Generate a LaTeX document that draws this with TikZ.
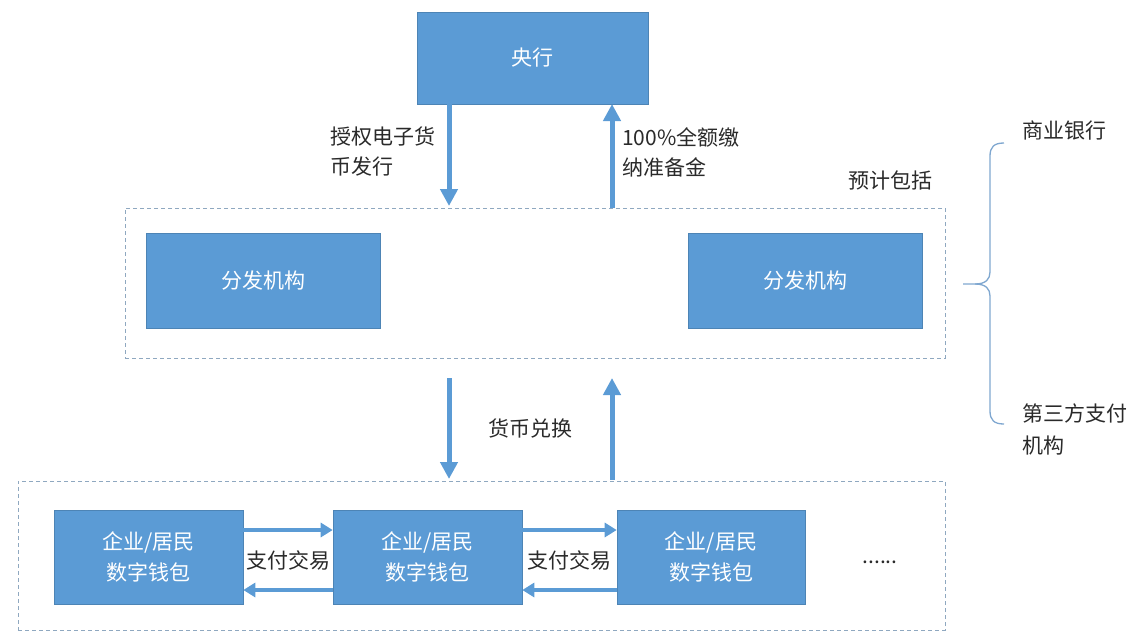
\documentclass[tikz,border=0pt]{standalone}
\usepackage{fontspec}
\setmainfont{Noto Sans CJK SC}
\usetikzlibrary{arrows.meta}
\definecolor{boxblue}{HTML}{5B9BD5}
\definecolor{dashc}{HTML}{8FA8C0}
\definecolor{bracec}{HTML}{7FA7D0}
\definecolor{txt}{HTML}{2A2A2A}
\begin{document}
\begin{tikzpicture}[x=1pt,y=-1pt,
  bluebox/.style={fill=boxblue,draw=boxblue!85!black,line width=0.6pt,text=white,font=\fontsize{21}{31}\selectfont,align=center,inner sep=0pt},
  dashbox/.style={draw=dashc,dashed,dash pattern=on 4pt off 3pt,line width=1pt},
  bigarrow/.style={draw=boxblue,line width=5pt,-{Triangle[width=17pt,length=17pt]}},
  smallarrow/.style={draw=boxblue,line width=4pt,-{Triangle[width=14pt,length=12pt]}},
  lbl/.style={text=txt,font=\fontsize{21}{30}\selectfont,align=left,inner sep=0pt}]
\useasboundingbox (0,0) rectangle (1132,633);
% central bank
\node[bluebox,minimum width=231pt,minimum height=92pt] (pboc) at (532.5,58) {央行};
% dashed box 1
\node[dashbox,minimum width=820pt,minimum height=150pt] (dist) at (535,283) {};
\node[bluebox,minimum width=234pt,minimum height=95pt] (d1) at (263,280.5) {分发机构};
\node[bluebox,minimum width=234pt,minimum height=95pt] (d2) at (805,280.5) {分发机构};
% arrows top
\coordinate (a1s) at (449,104);
\coordinate (a1e) at (449,206);
\coordinate (a2s) at (612,208);
\coordinate (a2e) at (612,104);
\draw[bigarrow] (a1s) -- (a1e);
\draw[bigarrow] (a2s) -- (a2e);
\node[lbl,anchor=north west] (l1) at (330,127) {授权电子货\\币发行};
\node[lbl,anchor=north west] (l2) at (622,127) {100\%全额缴\\纳准备金};
\node[lbl,anchor=west] (l3) at (848,180) {预计包括};
% brace
\draw[bracec,line width=1.3pt] (1004,143) .. controls (994,143) and (990,147) .. (990,156) -- (990,272) .. controls (990,279) and (986,284) .. (975,284) -- (963,284);
\draw[bracec,line width=1.3pt] (1004,424) .. controls (994,424) and (990,420) .. (990,411) -- (990,296) .. controls (990,289) and (986,284) .. (975,284);
\node[lbl,anchor=west] (b1) at (1022,131) {商业银行};
\node[lbl,anchor=north west,font=\fontsize{21}{32}\selectfont] (b2) at (1022,404) {第三方支付\\机构};
% dashed box 2
\node[dashbox,minimum width=927pt,minimum height=149pt] (users) at (481.5,555.5) {};
% middle arrows
\coordinate (m1s) at (449,378);
\coordinate (m1e) at (449,479);
\coordinate (m2s) at (612,480);
\coordinate (m2e) at (612,378);
\draw[bigarrow] (m1s) -- (m1e);
\draw[bigarrow] (m2s) -- (m2e);
\node[lbl,anchor=center] (l4) at (530,428) {货币兑换};
% wallets
\begin{scope}[every node/.append style={font=\fontsize{22}{31}\selectfont}]
\node[bluebox,minimum width=189pt,minimum height=94pt] (w1) at (148.5,557) {企业/居民\\数字钱包};
\node[bluebox,minimum width=189pt,minimum height=94pt] (w2) at (427.5,557) {企业/居民\\数字钱包};
\node[bluebox,minimum width=188pt,minimum height=94pt] (w3) at (711,557) {企业/居民\\数字钱包};
\end{scope}
\draw[smallarrow] (w1.east |- 0,530) -- (w2.west |- 0,530);
\draw[smallarrow] (w2.west |- 0,590) -- (w1.east |- 0,590);
\draw[smallarrow] (w2.east |- 0,530) -- (w3.west |- 0,530);
\draw[smallarrow] (w3.west |- 0,590) -- (w2.east |- 0,590);
\node[lbl,anchor=center] (p1) at (288,560) {支付交易};
\node[lbl,anchor=center] (p2) at (569.5,560) {支付交易};
\node[lbl,anchor=center] (dots) at (880,562) {......};
\end{tikzpicture}
\end{document}
